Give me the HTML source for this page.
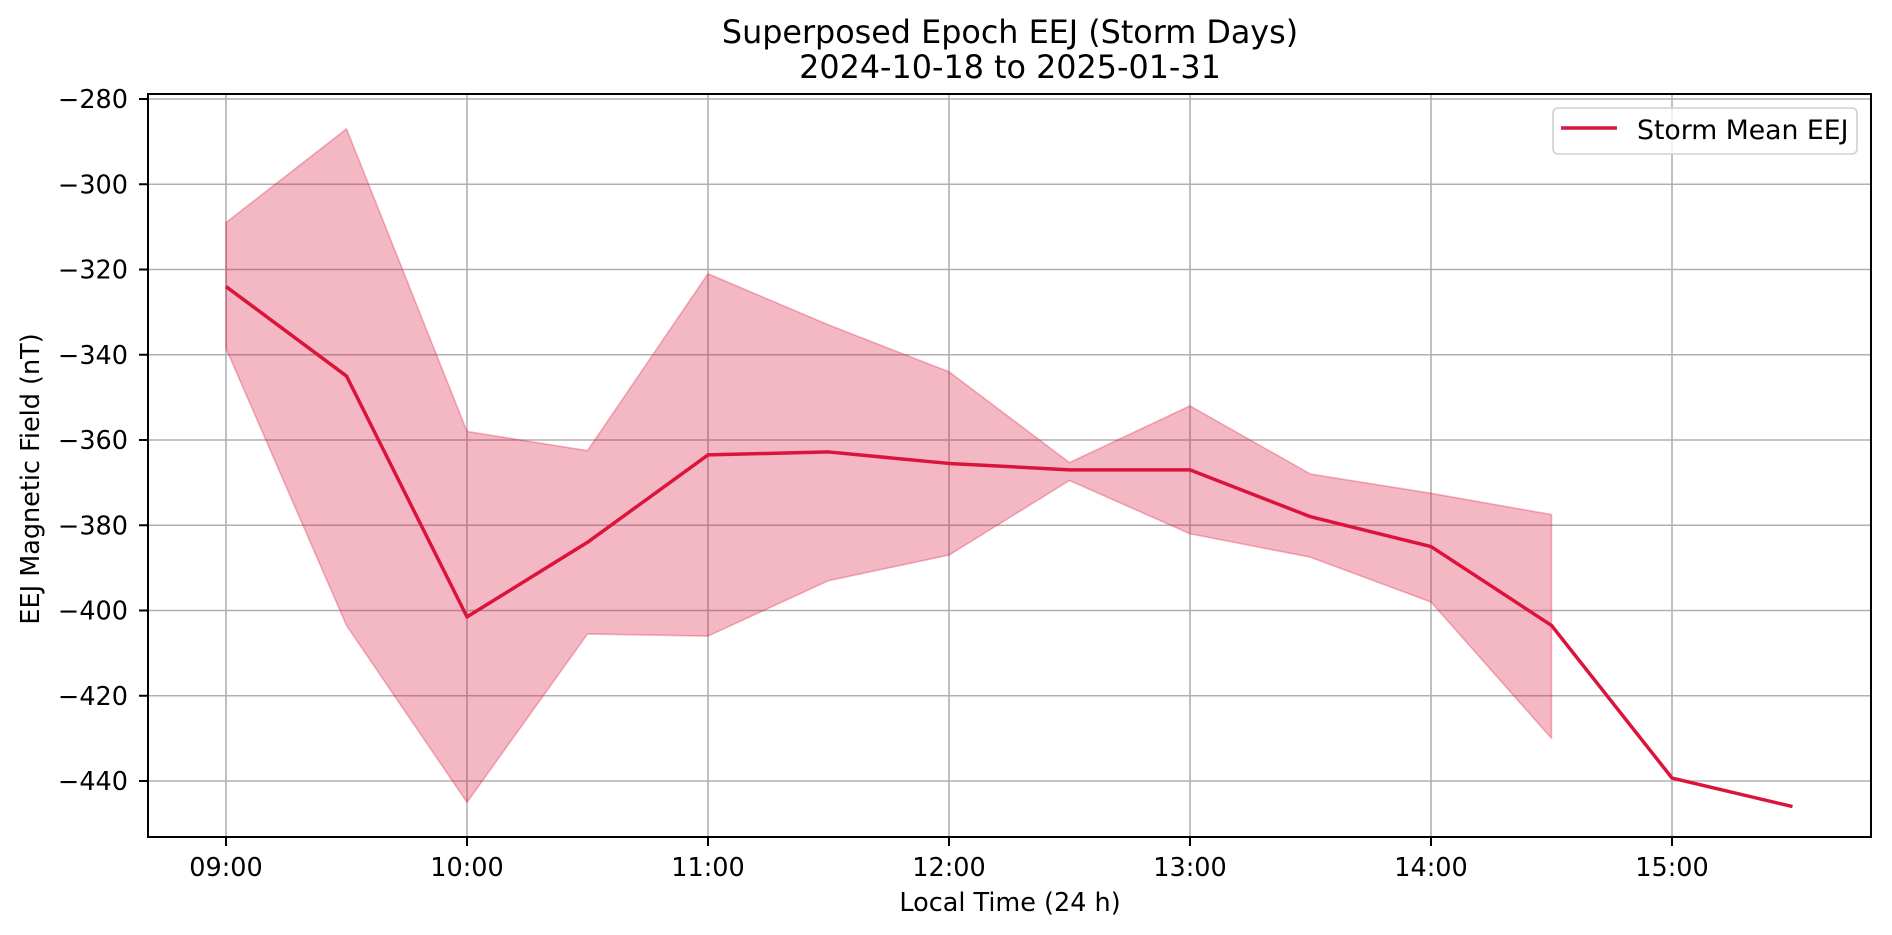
<!DOCTYPE html>
<html><head><meta charset="utf-8"><style>
html,body{margin:0;padding:0;background:#fff;}
svg{display:block;font-family:"DejaVu Sans","Liberation Sans",sans-serif;}
</style></head><body>
<svg id="s" width="1892" height="935" xmlns="http://www.w3.org/2000/svg">
<rect width="1892" height="935" fill="#fff"/>
<g id="grid" stroke="#b0b0b0" stroke-width="1.6"></g>
<polygon id="band" fill="#dc143c" fill-opacity="0.3" stroke="#dc143c" stroke-opacity="0.3" stroke-width="1.6" stroke-linejoin="round"/>
<polyline id="mean" fill="none" stroke="#dc143c" stroke-width="3.5" stroke-linejoin="round"/>
<rect x="148" y="94" width="1723" height="743" fill="none" stroke="#000" stroke-width="2"/>
<g id="ticks" stroke="#000" stroke-width="2"></g>
<g id="labels" font-size="25.5" fill="#000"></g>
<text x="1010" y="43" font-size="31.8" text-anchor="middle">Superposed Epoch EEJ (Storm Days)</text>
<text x="1010" y="78" font-size="31.8" text-anchor="middle">2024-10-18 to 2025-01-31</text>
<text x="1010" y="911" font-size="25.5" text-anchor="middle">Local Time (24 h)</text>
<text transform="translate(39,479) rotate(-90)" font-size="25.5" text-anchor="middle">EEJ Magnetic Field (nT)</text>
<rect x="1553" y="108" width="304" height="46" rx="5" fill="#fff" fill-opacity="0.8" stroke="#d0d0d0" stroke-width="1.6"/>
<line x1="1561" y1="128" x2="1617" y2="128" stroke="#dc143c" stroke-width="3.5"/>
<text x="1637" y="139" font-size="26.7">Storm Mean EEJ</text>
</svg>
<script>
var NS="http://www.w3.org/2000/svg";
function X(h){return 226+(h-9)*241;}
function Y(v){return 99+(-280-v)*4.2625;}
var g=document.getElementById('grid'),t=document.getElementById('ticks'),L=document.getElementById('labels');
function el(p,tag,a,txt){var e=document.createElementNS(NS,tag);for(var k in a)e.setAttribute(k,a[k]);if(txt)e.textContent=txt;p.appendChild(e);}
for(var h=9;h<=15;h++){var x=X(h);el(g,'line',{x1:x,x2:x,y1:94,y2:837});el(t,'line',{x1:x,x2:x,y1:837,y2:846});
el(L,'text',{x:x,y:876,'text-anchor':'middle'},(h<10?'0':'')+h+':00');}
for(var v=-280;v>=-440;v-=20){var y=Y(v);el(g,'line',{x1:148,x2:1871,y1:y,y2:y});el(t,'line',{x1:139,x2:148,y1:y,y2:y});
el(L,'text',{x:128,y:y+9,'text-anchor':'end'},'\u2212'+(-v));}
var mean=[-324,-345,-401.5,-384,-363.5,-362.8,-365.5,-367,-367,-378,-385,-403.5,-439.3,-446];
var up=[-309,-287,-358,-362.5,-321,-333,-344,-365.3,-352,-368,-372.5,-377.5];
var lo=[-338.5,-403.5,-445,-405.5,-406,-393,-387,-369.5,-382,-387.5,-398,-430];
var p=[],i;
for(i=0;i<mean.length;i++)p.push(X(9+i*0.5)+','+Y(mean[i]));
document.getElementById('mean').setAttribute('points',p.join(' '));
var b=[];
for(i=0;i<up.length;i++)b.push(X(9+i*0.5)+','+Y(up[i]));
for(i=lo.length-1;i>=0;i--)b.push(X(9+i*0.5)+','+Y(lo[i]));
document.getElementById('band').setAttribute('points',b.join(' '));
</script>
</body></html>
